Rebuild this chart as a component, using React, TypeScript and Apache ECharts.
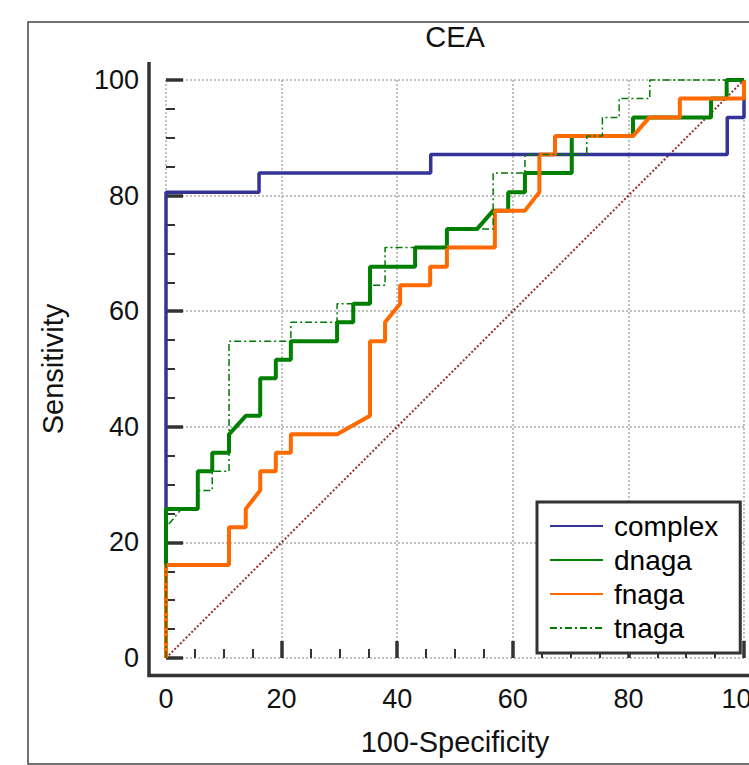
import React, { useEffect, useRef } from "react";
import * as echarts from "echarts";

const FONT = "'Liberation Sans', Arial, Helvetica, sans-serif";

const seriesNames = ["complex", "dnaga", "fnaga", "tnaga"];

const complexPts: [number, number][] = [
  [0, 0], [0, 80.6], [16.1, 80.6], [16.1, 83.9], [45.8, 83.9], [45.8, 87.1],
  [97.1, 87.1], [97.1, 93.5], [100, 93.5], [100, 100],
];

const dnagaPts: [number, number][] = [
  [0, 0], [0, 25.8], [5.5, 25.8], [5.5, 32.3], [8.0, 32.3], [8.0, 35.5],
  [10.9, 35.5], [10.9, 38.7], [13.8, 41.9], [16.3, 41.9], [16.3, 48.4],
  [19.0, 48.4], [19.0, 51.6], [21.6, 51.6], [21.6, 54.8], [29.6, 54.8],
  [29.6, 58.1], [32.4, 58.1], [32.4, 61.3], [35.3, 61.3], [35.3, 67.7],
  [43.1, 67.7], [43.1, 71.0], [48.6, 71.0], [48.6, 74.2], [53.8, 74.2],
  [56.6, 77.4], [59.2, 77.4], [59.2, 80.6], [62.1, 80.6], [62.1, 83.9],
  [70.2, 83.9], [70.2, 90.3], [80.8, 90.3], [80.8, 93.5], [94.3, 93.5],
  [94.3, 96.8], [97.0, 96.8], [97.0, 100], [100, 100],
];

const fnagaPts: [number, number][] = [
  [0, 0], [0, 16.1], [10.9, 16.1], [10.9, 22.6], [13.8, 22.6], [13.8, 25.8],
  [16.3, 29.0], [16.3, 32.3], [19.0, 32.3], [19.0, 35.5], [21.6, 35.5],
  [21.6, 38.7], [29.6, 38.7], [35.3, 41.9], [35.3, 54.8], [37.9, 54.8],
  [37.9, 58.1], [40.5, 61.3], [40.5, 64.5], [45.7, 64.5], [45.7, 67.7],
  [48.6, 67.7], [48.6, 71.0], [56.9, 71.0], [56.9, 77.4], [62.1, 77.4],
  [64.6, 80.6], [64.6, 87.1], [67.3, 87.1], [67.3, 90.3], [80.8, 90.3],
  [83.6, 93.5], [88.9, 93.5], [88.9, 96.8], [100, 96.8], [100, 100],
];

const tnagaPts: [number, number][] = [
  [0, 0], [0, 22.6], [2.7, 25.8], [5.5, 25.8], [5.5, 29.0], [8.0, 29.0],
  [8.0, 32.3], [10.9, 32.3], [10.9, 54.8], [21.6, 54.8], [21.6, 58.1],
  [29.6, 58.1], [29.6, 61.3], [35.3, 61.3], [35.3, 64.5], [37.9, 64.5],
  [37.9, 71.0], [48.6, 71.0], [48.6, 74.2], [56.6, 74.2], [56.6, 83.9],
  [62.1, 83.9], [62.1, 87.1], [72.8, 87.1], [72.8, 90.3], [75.5, 90.3],
  [75.5, 93.5], [78.4, 93.5], [78.4, 96.8], [83.7, 96.8], [83.7, 100],
  [100, 100],
];

const diagonalPts: [number, number][] = [[0, 0], [100, 100]];

const axisMin = 0;
const axisMax = 100;
const axisInterval = 20;

export default function App() {
  const ref = useRef<HTMLDivElement>(null);

  useEffect(() => {
    if (!ref.current) return;
    const chart = echarts.init(ref.current, undefined, { renderer: "svg" });

    const axisCommon = {
      type: "value" as const,
      min: axisMin,
      max: axisMax,
      interval: axisInterval,
      offset: 17,
      axisLine: { show: false },
      axisTick: {
        show: true,
        inside: true,
        length: 17,
        lineStyle: { color: "#333", width: 3.5 },
      },
      minorTick: {
        show: true,
        splitNumber: 4,
        length: 9,
        lineStyle: { color: "#333", width: 2 },
      },
      splitLine: {
        show: true,
        lineStyle: { color: "#aaa", width: 1.5, type: [2, 2] },
      },
      axisLabel: {
        fontSize: 27,
        fontFamily: FONT,
        color: "#111",
        margin: 10,
      },
      nameLocation: "middle" as const,
      nameTextStyle: { fontSize: 29, fontFamily: FONT, color: "#111" },
    };

    chart.setOption({
      animation: false,
      backgroundColor: "#fff",
      grid: {
        left: 166,
        top: 80,
        width: 578,
        height: 578,
        containLabel: false,
        outerBoundsMode: "none",
      },
      xAxis: { ...axisCommon, name: "100-Specificity", nameGap: 52 },
      yAxis: { ...axisCommon, name: "Sensitivity", nameGap: 82 },
      legend: {
        orient: "vertical",
        left: 537,
        top: 502,
        data: seriesNames,
        itemWidth: 53,
        itemHeight: 14,
        itemGap: 6,
        borderColor: "#333",
        borderWidth: 3,
        backgroundColor: "#fff",
        padding: [10, 22, 11, 12],
        itemStyle: { opacity: 0, borderWidth: 0 },
        textStyle: { fontSize: 28, fontFamily: FONT, color: "#000", padding: [0, 0, 0, 6] },
      },
      graphic: [
        {
          type: "rect",
          shape: { x: 28, y: 22, width: 800, height: 742 },
          style: { fill: "none", stroke: "#444", lineWidth: 1.5 },
          silent: true,
        },
        {
          type: "text",
          x: 455,
          y: 37,
          style: {
            text: "CEA",
            fontSize: 29,
            fontFamily: FONT,
            fill: "#111",
            textAlign: "center",
            textVerticalAlign: "middle",
          },
        },
        {
          type: "polyline",
          shape: { points: [[149, 62], [149, 675.5], [760, 675.5]] },
          style: { stroke: "#333", lineWidth: 3.5, fill: "none" },
          silent: true,
        },
      ],
      series: [
        {
          name: "diagonal",
          type: "line",
          data: diagonalPts,
          symbol: "none",
          clip: false,
          lineStyle: { color: "#9b2d2d", width: 2, type: [2, 2] },
          silent: true,
        },
        {
          name: "complex",
          type: "line",
          data: complexPts,
          symbol: "none",
          clip: false,
          color: "#333399",
          lineStyle: { color: "#333399", width: 3.5 },
        },
        {
          name: "dnaga",
          type: "line",
          data: dnagaPts,
          symbol: "none",
          clip: false,
          color: "#008000",
          lineStyle: { color: "#008000", width: 4 },
        },
        {
          name: "fnaga",
          type: "line",
          data: fnagaPts,
          symbol: "none",
          clip: false,
          color: "#ff6a00",
          lineStyle: { color: "#ff6a00", width: 4 },
        },
        {
          name: "tnaga",
          type: "line",
          data: tnagaPts,
          symbol: "none",
          clip: false,
          color: "#007a00",
          lineStyle: { color: "#007a00", width: 1.5, type: [7, 3, 2, 3] },
        },
      ],
    });

    return () => {
      chart.dispose();
    };
  }, []);

  return (
    <div
      ref={ref}
      style={{ position: "fixed", left: 0, top: 0, width: 749, height: 765 }}
    />
  );
}
